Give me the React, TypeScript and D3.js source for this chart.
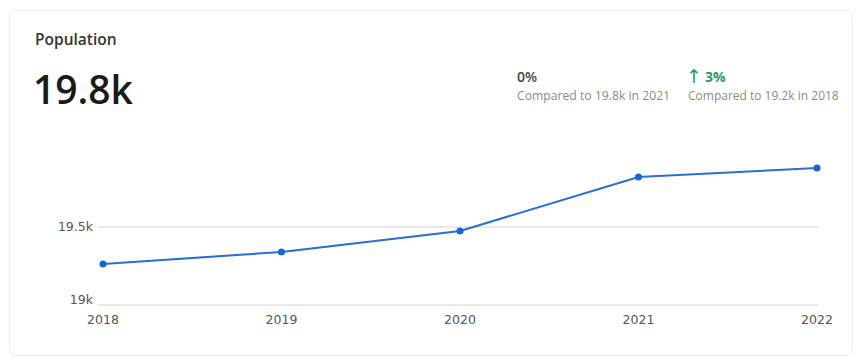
import React from "react";
import * as d3 from "d3";

const years = ["2018", "2019", "2020", "2021", "2022"];
const population = [19263, 19340, 19474, 19821, 19878];
const yTicks = [19000, 19500];
const yTickLabels = ["19k", "19.5k"];

const W = 861;
const H = 361;

export default function App() {
  const x = d3.scalePoint<string>().domain(years).range([103, 817]);
  const y = d3.scaleLinear().domain([19000, 20000]).range([305, 149]);
  const line = d3
    .line<number>()
    .x((_, i) => x(years[i]) as number)
    .y((d) => y(d));
  const font = "'Open Sans', 'Noto Sans', sans-serif";
  const tickFont = "'DejaVu Sans', sans-serif";
  return (
    <svg
      width={W}
      height={H}
      style={{ position: "absolute", left: 0, top: 0, background: "#fff" }}
    >
      <rect x={0} y={0} width={W} height={H} fill="#fff" />
      <rect
        x={9.5}
        y={10.5}
        width={843}
        height={345}
        rx={6}
        fill="#fff"
        stroke="#ececec"
        strokeWidth={1}
      />
      <text x={35} y={45} fontFamily={font} fontSize={15.5} fontWeight={600} fill="#333">
        Population
      </text>
      <text x={33} y={104} fontFamily={font} fontSize={39} fontWeight={600} fill="#1a1a1a">
        19.8k
      </text>
      <text x={517} y={82} fontFamily={font} fontSize={14} fontWeight={600} fill="#444">
        0%
      </text>
      <text x={517} y={100} fontFamily={font} fontSize={12.2} fill="#8a8a8a">
        Compared to 19.8k in 2021
      </text>
      <text x={686} y={82} fontFamily={font} fontSize={14} fontWeight={700} fill="#2f9a5c">
        <tspan fontFamily="'DejaVu Sans', sans-serif" fontSize={19} fontWeight={400} dy={1}>↑</tspan>
        <tspan dx={3} dy={-1}>3%</tspan>
      </text>
      <text x={688} y={100} fontFamily={font} fontSize={12} fill="#8a8a8a">
        Compared to 19.2k in 2018
      </text>
      {yTicks.map((t, i) => (
        <g key={t}>
          <line x1={98} x2={818} y1={y(t)} y2={y(t)} stroke="#e3e3e3" strokeWidth={1.5} />
          <text
            x={93}
            y={y(t) + (i === 0 ? -1 : 4)}
            textAnchor="end"
            fontFamily={tickFont}
            fontSize={12.5}
            fill="#555"
          >
            {yTickLabels[i]}
          </text>
        </g>
      ))}
      {years.map((yr) => (
        <text
          key={yr}
          x={x(yr)}
          y={324}
          textAnchor="middle"
          fontFamily={tickFont}
          fontSize={12.5}
          fill="#555"
        >
          {yr}
        </text>
      ))}
      <path d={line(population) || ""} fill="none" stroke="#2a6fd0" strokeWidth={2} />
      {population.map((v, i) => (
        <circle key={i} cx={x(years[i])} cy={y(v)} r={3.5} fill="#1765d6" />
      ))}
    </svg>
  );
}
